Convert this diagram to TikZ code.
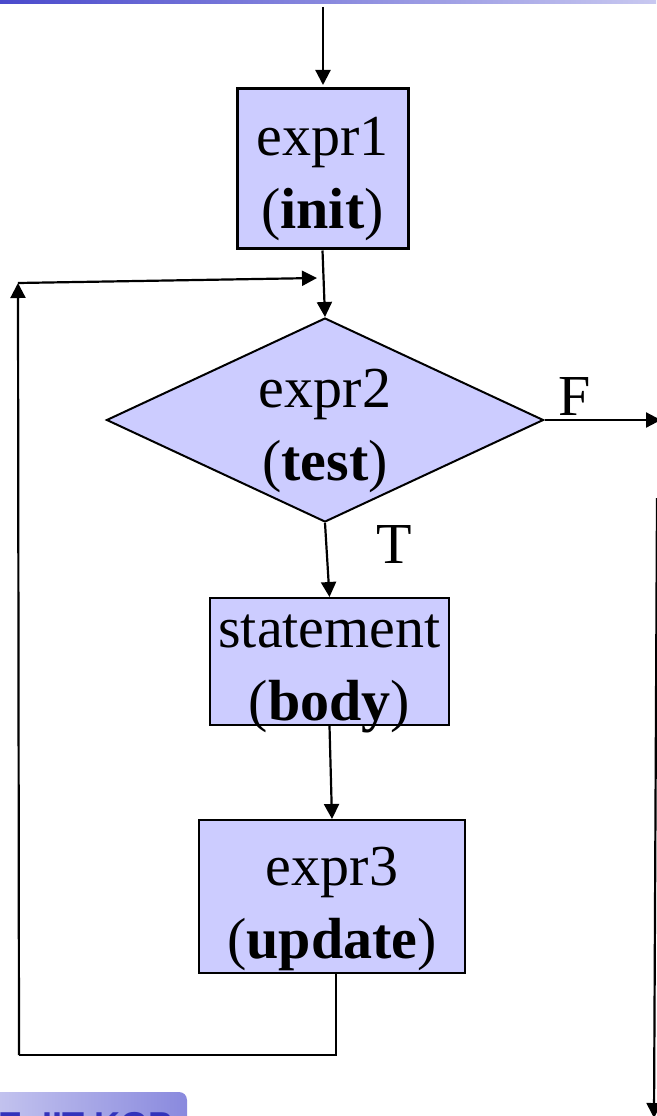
\documentclass[tikz,border=0pt]{standalone}
\usepackage{fontspec}
\setmainfont{Liberation Serif}
\setsansfont{Liberation Sans}
\usetikzlibrary{arrows.meta,shapes.geometric,calc}
\definecolor{boxfill}{RGB}{204,204,255}
\definecolor{barleft}{RGB}{74,74,204}
\definecolor{barright}{RGB}{200,200,240}
\definecolor{tabtext}{RGB}{51,51,187}
\newcommand{\flowtext}[3]{\raisebox{-#1}[\dimexpr\height-40pt\relax][\dimexpr\depth-40pt\relax]{\begin{tabular}{@{}c@{}}#2\\#3\end{tabular}}}
\tikzset{
 x=1pt,y=-1pt,
 flow/.style={draw=black,fill=boxfill,line width=2pt,inner sep=0pt,
   font=\fontsize{58}{73}\selectfont},
 thickbox/.style={flow,line width=3pt},
 lbl/.style={font=\fontsize{58}{60}\selectfont,inner sep=0pt,anchor=base},
 wire/.style={line width=2.2pt,draw=black},
 arr/.style={wire,-{Triangle[length=15pt,width=15pt]}},
}
\begin{document}
\begin{tikzpicture}
\useasboundingbox (0,0) rectangle (656,1116);
\shade[left color=barleft,right color=barright] (0,0) rectangle (656,4);
\begin{scope}
\clip (0,0) rectangle (656,1116);
\shade[left color=barright,right color=barleft!65!white,rounded corners=8pt] (-20,1092) rectangle (187,1140);
\node[font=\sffamily\bfseries\fontsize{36}{36}\selectfont,text=tabtext,anchor=base east,inner sep=0pt] (tab) at (173,1137) {E, IIT KGP};
\end{scope}
\node[thickbox,minimum width=171pt,minimum height=160pt] (init) at (322.5,168) {\flowtext{9pt}{expr1}{(\textbf{init})}};
\node[flow,diamond,aspect=2.14,minimum width=437pt,minimum height=204pt] (test) at (325,420) {};
\node[font=\fontsize{58}{73}\selectfont,inner sep=0pt] (testl) at (325,429) {\flowtext{0pt}{expr2}{(\textbf{test})}};
\node[flow,minimum width=239pt,minimum height=127pt] (body) at (329.5,661.5) {\flowtext{8pt}{statement}{(\textbf{body})}};
\node[flow,minimum width=266pt,minimum height=153pt] (update) at (332,896.5) {\flowtext{11pt}{expr3}{(\textbf{update})}};
\coordinate (start) at (323,7);
\coordinate (loopA) at (336,1055);
\coordinate (loopB) at (19,1055);
\coordinate (loopC) at (18,283);
\coordinate (loopD) at (317,278);
\coordinate (exitA) at (657,498);
\coordinate (exitB) at (654,1118);
\draw[arr] (start) -- (323,85);
\draw[arr] (init.south) ++(0,1) -- (test.north);
\draw[arr] (test.south) -- (body.north);
\draw[arr] (body.south) -- (update.north);
\draw[wire] (336,973) -- (loopA) -- (loopB);
\draw[arr] (loopB) -- (loopC);
\draw[arr] (loopC) -- (loopD);
\draw[arr] (test.east) -- (661,420);
\draw[arr] (exitA) -- (exitB);
\node[lbl] (F) at (575,415) {F};
\node[lbl] (T) at (394,563) {T};
\end{tikzpicture}
\end{document}
